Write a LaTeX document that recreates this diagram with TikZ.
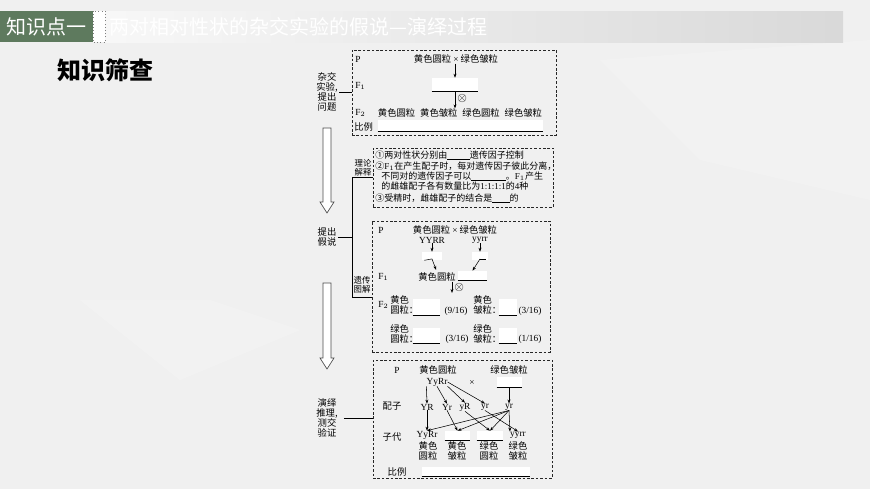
\documentclass[tikz,border=0pt]{standalone}
\usepackage{fontspec}
\newfontfamily\cjk{Noto Sans CJK SC}
\newfontfamily\lat{Liberation Serif}
\usetikzlibrary{positioning,fit,arrows.meta}
\definecolor{kpgreen}{RGB}{94,122,94}
\newcommand\sm{\cjk\fontsize{7}{7.6}\selectfont}
\newcommand\tn{\cjk\fontsize{6.3}{6.8}\selectfont}
\newcommand\gap[1]{\rule[-1.2pt]{#1}{0.4pt}}
\tikzset{
  lbl/.style={font=\sm, inner sep=0pt, align=center},
  txt/.style={font=\sm, inner sep=0pt, anchor=west},
  thy/.style={font=\cjk\fontsize{6.75}{7.5}\selectfont, inner sep=0pt, anchor=west},
  tag/.style={font=\tn, inner sep=0pt, align=center},
  self/.style={font=\fontsize{9}{9}\selectfont, inner sep=0pt, anchor=west},
  dbox/.style={draw=black!85, line width=0.5pt, dash pattern=on 2pt off 1.3pt, inner sep=0pt},
  blank/.style={fill=white, inner sep=0pt},
  arr/.style={-{Stealth[length=3pt,width=2.2pt]}, line width=0.4pt},
  hollow/.style={draw=black!70, fill=white, line width=0.5pt},
}
\begin{document}
\begin{tikzpicture}[x=0.75pt,y=-0.75pt]
  \useasboundingbox (0,0) rectangle (870,489);
  % background
  \fill[gray!12] (0,0) rectangle (870,489);
  \fill[white, opacity=0.18] (80,300) -- (180,380) -- (300,330) -- (210,300) -- cycle;
  \fill[white, opacity=0.15] (600,60) -- (870,40) -- (870,200) -- (700,160) -- cycle;

  % header
  \shade[left color=gray!6, right color=gray!30] (105,11) rectangle (843,42);
  \fill[kpgreen] (0,11) rectangle (93,42);
  \draw[dotted, gray, fill=white] (93,11) rectangle (105,42);
  \node[font=\cjk\fontsize{15}{15}\selectfont, text=white, anchor=west, inner sep=0pt] (kp) at (6,27) {知识点一};
  \node[font=\cjk\fontsize{15}{15}\selectfont, text=white, anchor=west, inner sep=0pt] (title) at (109,27) {两对相对性状的杂交实验的假说—演绎过程};
  \node[font=\cjk\bfseries\fontsize{18}{18}\selectfont, inner sep=0pt] (zs) at (105,70) {知识筛查};

  % hollow arrows
  \draw[hollow] (323,128) -- (331,128) -- (331,202) -- (334,202) -- (327,213) -- (320,202) -- (323,202) -- cycle;
  \draw[hollow] (323,283) -- (331,283) -- (331,358) -- (334,358) -- (327,369) -- (320,358) -- (323,358) -- cycle;

  % Box 1: experiment
  \node[dbox, fit={(352,50)(556,135)}] (box1) {};
  \node[lbl] (lab1) at (327,92) {杂交\\实验,\\提出\\问题};
  \draw ([xshift=1pt]lab1.east) -- (lab1.east -| box1.west);
  \node[txt] (p1) at (355,59) {\lat P};
  \node[lbl] (cross1) at (456,59) {黄色圆粒 {\lat ×} 绿色皱粒};
  \node[txt] (f11) at (355,86) {{\lat F}$_1$};
  \node[blank, fit={(432,78)(478,91)}] (f1b) {};
  \draw (f1b.south west) -- (f1b.south east);
  \draw[arr] (cross1.south -| f1b) -- (f1b.north);
  \node[txt] (f21) at (355,113) {{\lat F}$_2$};
  \node[lbl] (f2row) at (460,113) {黄色圆粒\hspace{3.7pt}黄色皱粒\hspace{3.7pt}绿色圆粒\hspace{3.7pt}绿色皱粒};
  \draw[arr] (f1b.south) -- (f1b.south |- f2row.north);
  \node[self] (self1) at (457,98) {$\otimes$};
  \node[txt] (bl1) at (354,127) {比例};
  \node[blank, fit={(378,120)(543,131)}] (bl1b) {};
  \draw (bl1b.south west) -- (bl1b.south east);

  % Box 2: theory
  \node[dbox, fit={(373,148)(553,207)}] (box2) {};
  \node[tag] (lab2) at (363,168) {理论\\解释};
  \node[thy] (t1) at (375,155) {①两对性状分别由\gap{17pt}遗传因子控制};
  \node[thy] (t2) at (375,166) {②{\lat F}$_1$在产生配子时，每对遗传因子彼此分离，};
  \node[thy] (t3) at (381,176) {不同对的遗传因子可以\gap{26pt}。{\lat F}$_1$产生};
  \node[thy] (t4) at (381,186) {的雌雄配子各有数量比为{\lat 1:1:1:1}的{\lat 4}种};
  \node[thy] (t5) at (375,198) {③受精时，雌雄配子的结合是\gap{13pt}的};

  % bracket
  \node[lbl] (lab3) at (327,237) {提出\\假说};
  \coordinate (brk) at (352,237);
  \draw ([xshift=1pt]lab3.east) -- (brk);
  \draw (box2.west |- 0,177) -| (brk);

  % Box 3: diagram
  \node[dbox, fit={(372,221)(550,352)}] (box3) {};
  \node[tag] (lab4) at (362,285) {遗传\\图解};
  \draw (brk) |- (box3.west |- 0,297);
  \node[txt] (p3) at (378,230) {\lat P};
  \node[lbl] (cross3) at (455,230) {黄色圆粒 {\lat ×} 绿色皱粒};
  \node[font=\lat\fontsize{7}{8}\selectfont, inner sep=0pt] (yyrr1) at (432,240) {YYRR};
  \node[font=\lat\fontsize{7}{8}\selectfont, inner sep=0pt] (yyrr2) at (480,240) {yyrr};
  \node[blank, fit={(422,252)(442,260)}] (b3a) {};
  \node[blank, fit={(472,252)(488,260)}] (b3b) {};
  \draw[arr] (yyrr1.south) -- (b3a.north);
  \draw[arr] (yyrr2.south) -- (b3b.north);
  \draw ([xshift=2pt]b3a.south west) -- ([yshift=1pt]b3a.south);
  \draw ([yshift=1pt]b3b.south) -- ([xshift=-2pt,yshift=1pt]b3b.south east);
  \node[txt] (f13) at (378,277) {{\lat F}$_1$};
  \node[lbl] (f1t) at (437,277) {黄色圆粒};
  \node[blank, fit={(458,271)(487,280)}] (f1b3) {};
  \draw (f1b3.south west) -- (f1b3.south east);
  \draw[arr, shorten >=2pt] ([yshift=1pt]b3a.south) -- (f1t.north);
  \draw[arr] ([yshift=1pt]b3b.south) -- (f1b3.north);
  \coordinate (s3) at (452,293);
  \draw[arr] (f1t.south -| s3) -- (s3);
  \node[self] (self3) at (454,287) {$\otimes$};
  \node[txt] (f23) at (378,305) {{\lat F}$_2$};
  % F2 classes
  \node[txt, align=left] (c1) at (390,305) {黄色\\圆粒：};
  \node[blank, fit={(413,299)(440,315)}] (c1b) {};
  \node[font=\lat\fontsize{7}{8}\selectfont, inner sep=0pt] (c1r) at (456,311) {(9/16)};
  \node[txt, align=left] (c2) at (473,305) {黄色\\皱粒：};
  \node[blank, fit={(499,299)(517,315)}] (c2b) {};
  \node[font=\lat\fontsize{7}{8}\selectfont, inner sep=0pt] (c2r) at (530,311) {(3/16)};
  \node[txt, align=left] (c3) at (390,334) {绿色\\圆粒：};
  \node[blank, fit={(413,328)(440,343)}] (c3b) {};
  \node[font=\lat\fontsize{7}{8}\selectfont, inner sep=0pt] (c3r) at (457,339) {(3/16)};
  \node[txt, align=left] (c4) at (473,334) {绿色\\皱粒：};
  \node[blank, fit={(499,328)(517,343)}] (c4b) {};
  \node[font=\lat\fontsize{7}{8}\selectfont, inner sep=0pt] (c4r) at (530,339) {(1/16)};
  \foreach \b in {c1b,c2b,c3b,c4b}
    \draw (\b.south west) -- (\b.south east);

  % Box 4: test cross
  \node[dbox, fit={(373,360)(552,478)}] (box4) {};
  \node[lbl] (lab5) at (327,418) {演绎\\推理,\\测交\\验证};
  \draw ([xshift=4.5pt]lab5.east) -- (lab5.east -| box4.west);
  \node[lbl] (p4) at (397,370) {\lat P};
  \node[lbl] (pa) at (438,370) {黄色圆粒};
  \node[lbl] (pb) at (509,370) {绿色皱粒};
  \node[font=\lat\fontsize{7}{8}\selectfont, inner sep=0pt] (pyy) at (437,382) {YyRr};
  \node[font=\lat\fontsize{7}{8}\selectfont, inner sep=0pt] (x4) at (472,383) {×};
  \node[blank, fit={(497,377)(522,387)}] (b4) {};
  \draw (b4.south west) -- (b4.south east);
  \node[lbl] (gz) at (392,406) {配子};
  \foreach \n/\x/\t in {g1/427/YR, g2/447/Yr, g3/465/yR, g4/485/yr, g5/509/yr}
    \node[font=\lat\fontsize{7}{8}\selectfont, inner sep=0pt] (\n) at (\x,407) {\t};
  \draw[arr] (b4.south -| g5) -- (g5.north);
  \draw[arr] (pyy.south west) -- (g1.north);
  \draw[arr] (pyy.south) -- (g2.north);
  \draw[arr] (pyy.south east) -- (g3.north);
  \draw[arr] (pyy.east) -- (g4.north);
  \node[lbl] (zd) at (392,437) {子代};
  \node[font=\lat\fontsize{7}{8}\selectfont, inner sep=0pt] (o1) at (427,435) {YyRr};
  \node[blank, fit={(445,431)(470,440)}] (o2) {};
  \node[blank, fit={(477,431)(503,440)}] (o3) {};
  \node[font=\lat\fontsize{7}{8}\selectfont, inner sep=0pt] (o4) at (518,435) {yyrr};
  \draw (o2.south west) -- (o2.south east);
  \draw (o3.south west) -- (o3.south east);
  \draw[arr] (g1.south) -- (o1.north);
  \draw[arr] (g2.south) -- (o2.north);
  \draw[arr] (g3.south) -- (o3.north);
  \draw[arr] (g4.south) -- (o4.north);
  \foreach \o in {o1,o2,o3}
    \draw[arr] (g5.south) -- (\o.north);
  \draw[arr] (g5.south) -- (o4.north west);
  \node[lbl] (k1) at (428,451) {黄色\\圆粒};
  \node[lbl] (k2) at (457,451) {黄色\\皱粒};
  \node[lbl] (k3) at (489,451) {绿色\\圆粒};
  \node[lbl] (k4) at (518,451) {绿色\\皱粒};
  \node[lbl] (bl4) at (397,472) {比例};
  \node[blank, fit={(422,467)(530,476)}] (bl4b) {};
  \draw (bl4b.south west) -- (bl4b.south east);

\end{tikzpicture}
\end{document}
